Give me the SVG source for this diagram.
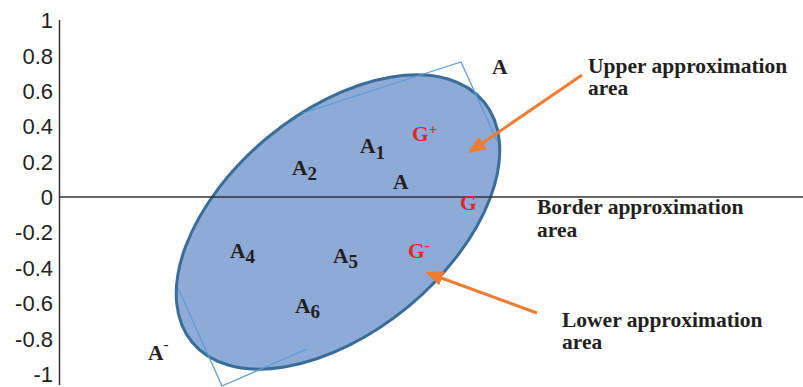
<svg xmlns="http://www.w3.org/2000/svg" width="803" height="387" viewBox="0 0 803 387">
<style>
.tick{font-family:"Liberation Sans",Arial,sans-serif;font-size:22px;fill:#222;text-anchor:end}
.lbl{font-family:"Liberation Serif","Times New Roman",serif;font-weight:bold;font-size:21.5px;fill:#231f20}
.red{fill:#e3262b}
.sub{font-size:19px}
.sup{font-size:15px}
.axis{stroke:#333;stroke-width:1.5;fill:none}
.rect{stroke:#5b9bd5;stroke-width:1.3;fill:none}
.arrow{stroke:#ed7d31;stroke-width:3;fill:none}
</style>
<defs>
<marker id="ah" markerUnits="userSpaceOnUse" markerWidth="18" markerHeight="15" refX="2" refY="7.5" orient="auto" viewBox="0 0 18 15">
<path d="M0,0 L18,7.5 L0,15 z" fill="#ed7d31"/>
</marker>
</defs>
<rect width="803" height="387" fill="#fff"/>
<g id="region">
<ellipse cx="338" cy="222" rx="189" ry="110" transform="rotate(-39.5 338 222)" fill="#8eaad7" stroke="#3a6c98" stroke-width="3"/>
</g>
<g id="axes">
<line class="axis" x1="59.5" y1="20" x2="59.5" y2="385"/>
<line class="axis" x1="59" y1="197" x2="803" y2="197"/>
<text class="tick" x="53" y="28">1</text>
<text class="tick" x="53" y="64">0.8</text>
<text class="tick" x="53" y="99">0.6</text>
<text class="tick" x="53" y="134">0.4</text>
<text class="tick" x="53" y="170">0.2</text>
<text class="tick" x="53" y="205">0</text>
<text class="tick" x="53" y="240">-0.2</text>
<text class="tick" x="53" y="276">-0.4</text>
<text class="tick" x="53" y="311">-0.6</text>
<text class="tick" x="53" y="347">-0.8</text>
<text class="tick" x="53" y="382">-1</text>
</g>
<g id="upper-rect">
<polyline class="rect" points="303,113 461,62 498,143"/>
</g>
<g id="lower-rect">
<polyline class="rect" points="178,288 222,386 307,349"/>
</g>
<g id="label-A-upper"><text class="lbl" x="492" y="74">A</text></g>
<g id="label-A-lower"><text class="lbl" x="148" y="360">A<tspan class="sup" dy="-11">-</tspan></text></g>
<g id="label-A1"><text class="lbl" x="360" y="153">A<tspan class="sub" dy="6">1</tspan></text></g>
<g id="label-A2"><text class="lbl" x="292" y="175">A<tspan class="sub" dy="5">2</tspan></text></g>
<g id="label-A"><text class="lbl" x="393" y="189">A</text></g>
<g id="label-A4"><text class="lbl" x="230" y="258">A<tspan class="sub" dy="5">4</tspan></text></g>
<g id="label-A5"><text class="lbl" x="333" y="263">A<tspan class="sub" dy="5">5</tspan></text></g>
<g id="label-A6"><text class="lbl" x="295" y="313">A<tspan class="sub" dy="5">6</tspan></text></g>
<g id="label-Gplus"><text class="lbl red" x="412" y="141">G<tspan class="sup" dy="-7">+</tspan></text></g>
<g id="label-G"><text class="lbl red" x="460" y="210">G</text></g>
<g id="label-Gminus"><text class="lbl red" x="408" y="258">G<tspan class="sup" dy="-8">-</tspan></text></g>
<g id="note-upper"><text class="lbl" x="588" y="73">Upper approximation<tspan x="588" dy="22">area</tspan></text></g>
<g id="note-border"><text class="lbl" x="537" y="214">Border approximation<tspan x="537" dy="23">area</tspan></text></g>
<g id="note-lower"><text class="lbl" x="562" y="327">Lower approximation<tspan x="562" dy="22">area</tspan></text></g>
<g id="connectors">
<line class="arrow" x1="582" y1="75" x2="481.2" y2="144" marker-end="url(#ah)"/>
<line class="arrow" x1="537" y1="313" x2="440" y2="277.5" marker-end="url(#ah)"/>
</g>
</svg>
